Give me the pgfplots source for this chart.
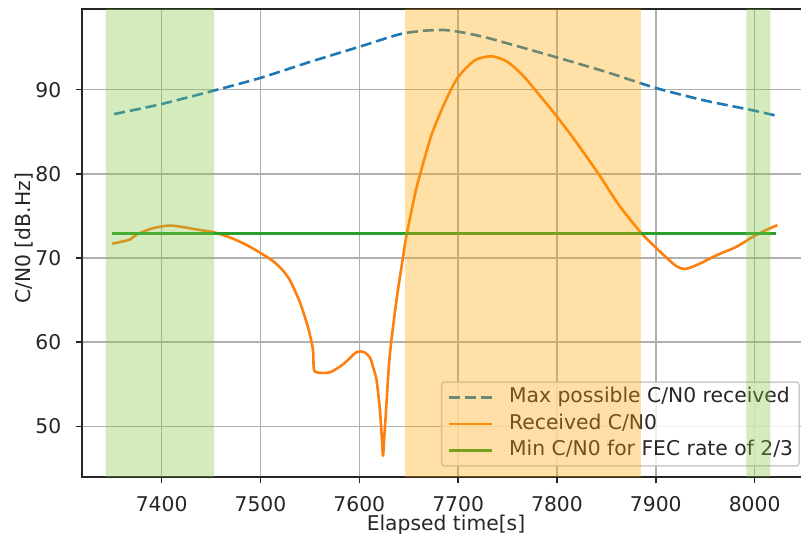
\documentclass[border=0pt]{standalone}
\usepackage{fontspec}
\setmainfont{DejaVu Sans}
\usepackage{pgfplots}
\pgfplotsset{compat=1.18}

\definecolor{mplblue}{RGB}{31,119,180}
\definecolor{mplorange}{RGB}{255,127,14}
\definecolor{mplgreen}{RGB}{44,160,44}
\definecolor{spangreen}{RGB}{132,198,69}
\definecolor{spanorange}{RGB}{255,165,0}
\definecolor{gridgray}{RGB}{176,176,176}

\newcommand{\fs}{\fontsize{20.3}{23}\selectfont}

\pgfplotsset{
  cnbox/.style={
    scale only axis,
    width=728pt, height=468pt,
    at={(82pt,57pt)}, anchor=south west,
    xmin=7319.4, xmax=8056,
    ymin=43.97, ymax=99.59,
  }
}

\begin{document}
\begin{tikzpicture}
  \begin{axis}[
      cnbox,
      axis line style={black!85, line width=1.5pt},
      xtick={7400,7500,...,8000},
      ytick={50,60,...,90},
      tick pos=left, tick align=outside,
      major tick length=6.5pt,
      tick style={black!85, line width=1.5pt},
      /pgf/number format/assume math mode=true,
      /pgf/number format/1000 sep={},
      xticklabel style={font=\fs, text=black!85, inner sep=0pt, anchor=north, yshift=-12.5pt},
      yticklabel style={font=\fs, text=black!85, inner sep=0pt, anchor=east, xshift=-14pt},
      grid=major,
      grid style={gridgray, line width=1.5pt},
      xlabel={Elapsed time[s]},
      ylabel={C/N0 [dB.Hz]},
      xlabel style={font=\fs, text=black!85, at={(axis description cs:0.5,0)}, anchor=north, inner sep=0pt, yshift=-38pt},
      ylabel style={font=\fs, text=black!85, at={(axis description cs:0,0.51)}, anchor=south, inner sep=0pt, yshift=49pt},
      legend cell align=left,
      legend image code/.code={\draw[#1] (0pt,0pt) -- (43pt,0pt);},
      legend style={
        at={(rel axis cs:0.986,0.022)}, anchor=south east,
        draw=black!20, line width=1.5pt, rounded corners=3pt,
        fill=white, fill opacity=0.8, text opacity=1, draw opacity=1,
        font=\fs, text=black!85,
        inner xsep=6pt, inner ysep=6pt,
        row sep=8.2pt, column sep=16pt,
        nodes={inner sep=0pt, text height=14.5pt, text depth=4pt},
      },
    ]
    % max possible C/N0
    \addplot[mplblue, line width=2.6pt, dash pattern=on 11pt off 5pt, smooth, tension=0.4] coordinates {
      (7352,87.1) (7400,88.3) (7453,89.9) (7500,91.4) (7550,93.3)
      (7600,95.1) (7641,96.6) (7665,97.0) (7684,97.1) (7700,96.9)
      (7725,96.3) (7750,95.5) (7798,93.9) (7850,92.1) (7900,90.2)
      (7950,88.7) (8000,87.5) (8022,86.9)
    };
    \addlegendentry{Max possible C/N0 received}
    % received C/N0
    \addplot[mplorange, line width=2.6pt, line join=round, smooth, tension=0.45] coordinates {
      (7350,71.7) (7362,72.0) (7368,72.2) (7375,72.8) (7390,73.5)
      (7407,73.85) (7420,73.7) (7440,73.3) (7453,73.05) (7470,72.4)
      (7485,71.6) (7500,70.6) (7513,69.6) (7522,68.6) (7530,67.3)
      (7540,64.7) (7548,61.8) (7552,59.8) (7553.3,58.8) (7554,56.8)
      (7557,56.4) (7570,56.4) (7584,57.4) (7597,58.8) (7605,58.8)
      (7611,58.1) (7614,57.0) (7617.4,55.5) (7620.7,52.1) (7622.8,48.6)
      (7624,46.5) (7625.3,48.8) (7627,51.8)
      (7630.7,58.3) (7637.5,64.9) (7644.2,70.1) (7647.6,72.6) (7656,77.4)
      (7660,79.3) (7673,84.6) (7687,88.6) (7700,91.5) (7717,93.5)
      (7734,93.96) (7750,93.3) (7767,91.5) (7784,89.1) (7798,87.1)
      (7818,84.0) (7842,80.0) (7862,76.4) (7885,73.0) (7903,70.9)
      (7920,69.1) (7930,68.7) (7944,69.3) (7961,70.3) (7981,71.3)
      (7998,72.5) (8011,73.3) (8023,73.9)
    };
    \addlegendentry{Received C/N0}
    % threshold
    \addplot[mplgreen, line width=2.6pt] coordinates {(7350,72.9) (8022,72.9)};
    \addlegendentry{Min C/N0 for FEC rate of 2/3}
  \end{axis}
  % shaded spans, drawn over everything as in the original
  \begin{axis}[cnbox, hide axis]
    \addplot[draw=none, fill=spangreen, fill opacity=0.35] coordinates {
      (7343.4,43.97) (7453.2,43.97) (7453.2,99.59) (7343.4,99.59)} \closedcycle;
    \addplot[draw=none, fill=spanorange, fill opacity=0.35] coordinates {
      (7646.4,43.97) (7884.8,43.97) (7884.8,99.59) (7646.4,99.59)} \closedcycle;
    \addplot[draw=none, fill=spangreen, fill opacity=0.35] coordinates {
      (7991.6,43.97) (8015.9,43.97) (8015.9,99.59) (7991.6,99.59)} \closedcycle;
  \end{axis}
  \pgfresetboundingbox
  \useasboundingbox (0,0) rectangle (801pt,534pt);
\end{tikzpicture}
\end{document}
